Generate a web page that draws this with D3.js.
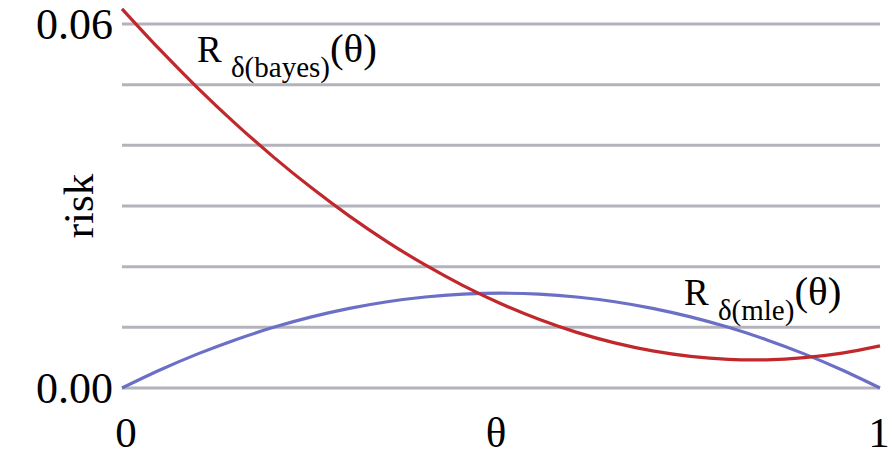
<!DOCTYPE html>
<html>
<head>
<meta charset="utf-8">
<script src="https://cdn.jsdelivr.net/npm/d3@7"></script>
<style>
  html, body { margin: 0; padding: 0; background: #fff; }
  svg { display: block; }
</style>
</head>
<body>
<svg id="chart" width="892" height="476"></svg>
<script>
// ---- data ----
const theta = [0, 0.05, 0.1, 0.15, 0.2, 0.25, 0.3, 0.35, 0.4, 0.45, 0.5,
               0.55, 0.6, 0.65, 0.7, 0.75, 0.8, 0.85, 0.9, 0.95, 1];
const riskBayes = [0.0625, 0.05576, 0.04944, 0.04354, 0.03806, 0.03299, 0.02833, 0.02410,
                   0.02028, 0.01688, 0.01389, 0.01132, 0.00917, 0.00743, 0.00611, 0.00521,
                   0.00472, 0.00465, 0.00500, 0.00576, 0.00694];
const riskMle = [0, 0.00297, 0.005625, 0.00797, 0.01, 0.01172, 0.013125, 0.01422, 0.015,
                 0.01547, 0.015625, 0.01547, 0.015, 0.01422, 0.013125, 0.01172, 0.01,
                 0.00797, 0.005625, 0.00297, 0];
const gridValues = [0, 0.01, 0.02, 0.03, 0.04, 0.05, 0.06];
const yTickLabels = [{v: 0, t: "0.00"}, {v: 0.06, t: "0.06"}];
const xTickLabels = [{v: 0, t: "0"}, {v: 1, t: "1"}];
const xTitle = "θ";
const yTitle = "risk";

// ---- chart ----
const FONT = "'Liberation Serif', 'DejaVu Serif', 'Times New Roman', serif";
const svg = d3.select("#chart").attr("font-family", FONT);
const x = d3.scaleLinear().domain([0, 1]).range([122, 880]);
const y = d3.scaleLinear().domain([0, 0.06]).range([388, 24]);

// grid
svg.append("g").selectAll("line").data(gridValues).join("line")
  .attr("x1", x(0)).attr("x2", x(1))
  .attr("y1", d => y(d)).attr("y2", d => y(d))
  .attr("stroke", "#b3b3bb").attr("stroke-width", 3);

// y tick labels
svg.append("g").selectAll("text").data(yTickLabels).join("text")
  .attr("x", x(0) - 9).attr("y", d => y(d.v))
  .attr("dy", "0.34em")
  .attr("text-anchor", "end").attr("font-size", 44)
  .text(d => d.t);

// x tick labels
svg.append("g").selectAll("text").data(xTickLabels).join("text")
  .attr("x", d => x(d.v) + (d.v === 0 ? 4 : -1)).attr("y", 447)
  .attr("text-anchor", "middle").attr("font-size", 43)
  .text(d => d.t);

// axis titles
svg.append("text").attr("x", 496).attr("y", 447)
  .attr("text-anchor", "middle").attr("font-size", 43).text(xTitle);
svg.append("text")
  .attr("transform", "translate(93,206) rotate(-90)")
  .attr("text-anchor", "middle").attr("font-size", 43).text(yTitle);

// curves
const pts = (vals) => theta.map((t, i) => [t, vals[i]]);
const line = d3.line().x(d => x(d[0])).y(d => y(d[1])).curve(d3.curveCatmullRom);

svg.append("path").datum(pts(riskMle))
  .attr("d", line).attr("fill", "none")
  .attr("stroke", "#6b70c6").attr("stroke-width", 3.2);
svg.append("path").datum(pts(riskBayes))
  .attr("d", line).attr("fill", "none")
  .attr("stroke", "#c0282c").attr("stroke-width", 3.2);

// curve labels
function curveLabel(xp, yp, sub) {
  const t = svg.append("text").attr("x", xp).attr("y", yp).attr("font-size", 37);
  t.append("tspan").text("R ");
  t.append("tspan").attr("font-size", 29).attr("dy", 15).text(sub);
  t.append("tspan").attr("font-size", 41).attr("dy", -15).text("(θ)");
}
curveLabel(197, 62, "δ(bayes)");
curveLabel(684, 305, "δ(mle)");
</script>
</body>
</html>
